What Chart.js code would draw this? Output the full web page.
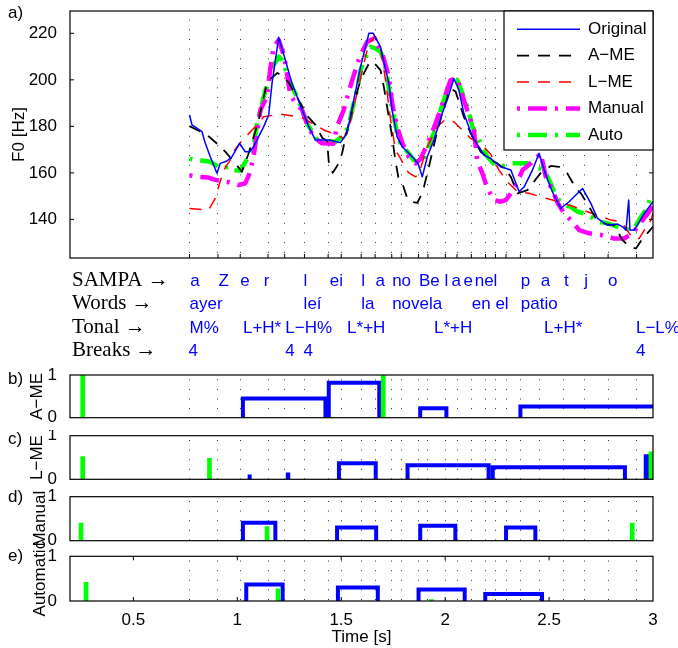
<!DOCTYPE html>
<html>
<head>
<meta charset="utf-8">
<title>F0 contours and tonal events</title>
<script src="https://cdn.jsdelivr.net/npm/chart.js@4.4.1/dist/chart.umd.min.js"></script>
<style>
  html, body { margin: 0; padding: 0; background: #fff; }
  #fig { position: relative; width: 678px; height: 648px; overflow: hidden; background: #fff; }
  #fig canvas { position: absolute; left: 0; }
</style>
</head>
<body>
<div id="fig">
  <canvas id="f0Chart" width="678" height="365" style="top:0px"></canvas>
  <canvas id="ameChart" width="678" height="70" style="top:360px"></canvas>
  <canvas id="lmeChart" width="678" height="60" style="top:430px"></canvas>
  <canvas id="manChart" width="678" height="70" style="top:485px"></canvas>
  <canvas id="autoChart" width="678" height="108" style="top:540px"></canvas>
</div>
<script>
// time axis (s)
const tMin = 0.195;
const tMax = 3.0;
const timeTicks = [0.5, 1, 1.5, 2, 2.5, 3];
const f0Ticks = [140, 160, 180, 200, 220];
// phone boundaries (dotted grid)
const phoneBounds = [0.770, 0.907, 1.014, 1.148, 1.228, 1.323, 1.437, 1.500, 1.596, 1.663, 1.743, 1.789, 1.872,
  1.917, 2.001, 2.057, 2.126, 2.194, 2.242, 2.293, 2.362, 2.455, 2.571, 2.671, 2.784, 2.921];

// F0 contours (Hz)
const origT = [0.770,0.782,0.830,0.846,0.870,0.902,0.918,0.950,0.974,1.011,1.038,1.059,1.078,1.127,1.151,1.167,1.199,1.231,
  1.263,1.312,1.343,1.376,1.440,1.496,1.528,1.560,1.593,1.633,1.654,1.689,1.729,1.745,1.769,1.794,1.842,1.869,1.890,1.914,
  1.946,1.986,2.010,2.042,2.066,2.090,2.131,2.163,2.187,2.219,2.267,2.316,2.356,2.380,2.420,2.452,2.484,2.516,2.556,2.596,
  2.661,2.701,2.733,2.781,2.830,2.854,2.870,2.883,2.889,2.910,2.958,3.000];
const origF = [184.9,180.6,177.7,172.7,166.9,159.8,164.1,165.1,166.9,172.7,169.1,169.1,171.2,179.9,184.9,198.5,218.3,208.5,
  198.5,187.0,180.0,174.1,174.1,173.0,177.0,191.3,205.6,220.0,220.0,214.2,198.5,187.0,175.5,171.2,166.9,164.1,158.3,166.9,
  174.1,185.6,191.3,200.6,195.6,185.6,175.5,171.2,167.6,166.2,162.6,161.2,151.9,154.0,161.2,168.4,159.1,151.9,144.7,147.6,
  153.3,146.9,140.4,137.5,138.0,136.8,135.4,148.3,135.4,135.4,142.6,147.6];

const ameT = [0.770,0.854,0.910,0.942,0.990,1.022,1.053,1.101,1.143,1.193,1.222,1.246,1.303,1.342,1.376,1.409,1.432,1.440,
  1.459,1.488,1.504,1.520,1.554,1.593,1.633,1.651,1.689,1.705,1.727,1.744,1.761,1.775,1.794,1.818,1.839,1.866,1.882,1.898,
  1.922,1.954,1.993,2.026,2.050,2.090,2.123,2.171,2.219,2.251,2.291,2.316,2.348,2.396,2.460,2.508,2.548,2.588,2.629,2.653,
  2.693,2.725,2.773,2.812,2.854,2.886,2.918,2.950,3.000];
const ameF = [180.1,176.3,172.0,169.1,164.1,160.5,168.0,182.0,199.0,203.0,201.0,199.0,190.0,184.0,180.6,175.0,173.8,164.8,
  160.0,164.1,168.4,175.0,188.0,200.0,207.0,208.0,204.2,197.0,185.0,176.0,165.0,158.0,155.5,149.0,147.5,147.1,150.0,154.0,
  162.6,175.0,188.0,196.3,195.0,184.1,177.0,169.1,165.5,164.1,161.2,158.3,151.2,152.6,160.0,163.0,162.6,159.8,153.3,151.2,
  145.4,140.4,138.0,137.5,131.1,128.2,127.5,131.8,136.8];

const lmeT = [0.770,0.861,0.894,0.910,0.934,0.966,0.982,1.014,1.071,1.102,1.127,1.207,1.271,1.319,1.360,1.424,1.462,1.512,
  1.544,1.583,1.617,1.633,1.665,1.689,1.713,1.737,1.761,1.785,1.809,1.825,1.858,1.874,1.914,1.962,2.002,2.042,2.083,2.123,
  2.179,2.219,2.259,2.299,2.348,2.404,2.460,2.516,2.572,2.621,2.685,2.733,2.797,2.846,2.886,2.902,2.934,2.958,2.990,3.000];
const lmeF = [144.7,144.0,149.0,154.0,161.2,165.5,169.1,173.0,178.4,181.3,184.1,185.3,184.4,183.4,181.3,178.1,177.0,174.8,
  182.0,197.0,210.0,215.7,218.5,214.0,200.0,183.0,169.8,166.2,162.0,160.0,158.3,159.8,171.2,180.0,183.0,182.0,178.4,174.8,
  171.9,168.0,161.2,156.2,151.9,151.2,149.7,148.3,146.9,145.4,143.3,141.8,139.7,139.0,134.0,131.8,131.8,135.4,139.7,142.6];

const manT = [0.770,0.806,0.861,0.894,0.950,1.006,1.038,1.059,1.078,1.096,1.111,1.143,1.159,1.175,1.199,1.226,1.255,1.271,
  1.312,1.343,1.376,1.408,1.462,1.480,1.512,1.536,1.553,1.584,1.601,1.625,1.657,1.697,1.729,1.745,1.769,1.794,1.825,1.858,
  1.882,1.922,1.954,1.988,2.026,2.058,2.084,2.114,2.138,2.154,2.179,2.203,2.235,2.267,2.291,2.316,2.348,2.372,2.412,2.444,
  2.460,2.484,2.516,2.542,2.572,2.604,2.645,2.693,2.749,2.813,2.861,2.902,2.926,2.950,2.976,3.000];
const manF = [159.0,158.3,158.0,157.0,156.2,154.8,155.5,159.8,166.9,178.0,187.0,192.7,205.0,214.2,217.1,210.0,193.5,191.3,
  187.0,179.1,174.8,172.7,172.5,180.0,187.0,194.9,199.9,208.5,212.1,216.4,217.8,211.4,201.3,189.9,179.9,172.7,166.9,164.1,
  166.0,174.1,181.3,190.0,199.9,200.6,193.0,184.9,178.4,165.5,159.8,153.3,148.3,147.6,148.3,151.2,156.2,161.2,164.1,166.9,
  168.4,158.3,152.6,147.0,142.6,139.7,135.4,134.0,133.3,131.8,131.8,134.0,136.8,139.7,142.6,146.0];

const autoT = [0.770,0.789,0.813,0.870,0.910,0.934,0.958,0.982,1.014,1.054,1.078,1.095,1.127,1.149,1.167,1.191,1.199,1.215,
  1.239,1.263,1.287,1.312,1.336,1.360,1.384,1.408,1.448,1.472,1.520,1.536,1.560,1.576,1.593,1.608,1.641,1.665,1.689,1.705,
  1.721,1.737,1.753,1.769,1.785,1.825,1.849,1.882,1.906,1.930,1.946,1.978,1.994,2.018,2.034,2.058,2.083,2.107,2.131,2.155,
  2.179,2.203,2.243,2.267,2.299,2.323,2.396,2.428,2.452,2.476,2.500,2.524,2.548,2.572,2.604,2.637,2.669,2.701,2.733,2.781,
  2.830,2.862,2.894,2.910,2.942,2.966,2.990,3.000];
const autoF = [166.2,165.5,165.5,164.8,162.6,161.9,162.9,161.2,160.9,166.9,171.2,181.3,192.7,200.0,205.6,208.5,210.0,208.5,
  202.8,197.0,192.7,187.0,181.3,177.7,174.1,173.0,173.6,173.4,177.0,180.6,189.9,195.6,204.2,207.8,214.2,213.5,212.0,208.5,
  201.3,191.3,184.1,177.0,172.7,168.4,165.5,164.1,166.9,174.1,177.0,187.0,191.3,197.0,199.9,199.9,194.2,188.4,179.9,175.5,
  171.2,166.9,163.0,162.6,163.3,164.1,164.1,162.6,161.9,161.2,157.0,152.0,148.3,146.2,145.4,143.3,142.6,141.1,139.0,138.3,
  136.8,136.1,135.4,136.1,141.1,144.0,149.7,151.2];

// annotation tiers (label start times)
const sampaText = ['a', 'Z', 'e', 'r', 'l', 'ei', 'l', 'a', 'no', 'Be', 'l', 'a', 'e', 'nel', 'p', 'a', 't', 'j', 'o'];
const sampaT = [0.773, 0.910, 1.014, 1.127, 1.319, 1.445, 1.596, 1.665, 1.745, 1.874, 1.997, 2.030, 2.088, 2.142, 2.364,
  2.460, 2.572, 2.669, 2.784];
const wordText = ['ayer', 'leí', 'la', 'novela', 'en el', 'patio'];
const wordT = [0.770, 1.319, 1.596, 1.745, 2.128, 2.364];
const tonalText = ['M%', 'L+H*', 'L−H%', 'L*+H', 'L*+H', 'L+H*', 'L−L%'];
const tonalT = [0.770, 1.027, 1.231, 1.528, 1.946, 2.476, 2.918];
const breakText = ['4', '4', '4', '4'];
const breakT = [0.765, 1.231, 1.319, 2.918];

// event panels: blue regions (start, end, height) and green marks (time, height)
const ameRegStart = [1.027, 1.440, 1.880, 2.362];
const ameRegEnd = [1.424, 1.683, 2.006, 3.020];
const ameRegH = [0.45, 0.82, 0.22, 0.26];
const ameMarkT = [0.256, 1.702];
const ameMarkH = [1.0, 1.0];

const lmeRegStart = [1.058, 1.243, 1.489, 1.819, 2.229, 2.965];
const lmeRegEnd = [1.060, 1.245, 1.666, 2.209, 2.865, 2.982];
const lmeRegH = [0.11, 0.11, 0.37, 0.32, 0.275, 0.53];
const lmeMarkT = [0.256, 0.866, 2.990];
const lmeMarkH = [0.52, 0.48, 0.63];

const manRegStart = [1.027, 1.480, 1.880, 2.293];
const manRegEnd = [1.183, 1.668, 2.049, 2.434];
const manRegH = [0.41, 0.30, 0.34, 0.30];
const manMarkT = [0.248, 1.143, 2.900];
const manMarkH = [0.40, 0.32, 0.40];

const autoRegStart = [1.043, 1.484, 1.872, 2.193];
const autoRegEnd = [1.218, 1.676, 2.094, 2.466];
const autoRegH = [0.37, 0.30, 0.26, 0.155];
const autoMarkT = [0.272, 1.196, 1.933];
const autoMarkH = [0.42, 0.27, 0.03];

const SANS = '"Liberation Sans", Arial, Helvetica, sans-serif';
const SERIF = '"Liberation Serif", "Times New Roman", serif';
Chart.defaults.font.family = SANS;
Chart.defaults.color = '#000';

const xy = (ts, vs) => ts.map((t, i) => ({x: t, y: vs[i]}));

function pulses(starts, ends, hs) {
    const pts = [];
    starts.forEach((s, i) => {
        pts.push({x: s, y: 0}, {x: s, y: hs[i]}, {x: ends[i], y: hs[i]}, {x: ends[i], y: 0}, {x: ends[i], y: null});
    });
    return pts;
}

// box around the axes, inward ticks, panel letter
const axesFrame = {
    id: 'axesFrame',
    afterDraw(chart, args, o) {
        const {ctx, chartArea: a, scales} = chart;
        ctx.save();
        ctx.strokeStyle = '#000';
        ctx.lineWidth = 1.2;
        ctx.strokeRect(a.left, a.top, a.right - a.left, a.bottom - a.top);
        ctx.lineWidth = 1;
        ctx.beginPath();
        (o.yTicks || []).forEach(v => {
            const py = scales.y.getPixelForValue(v);
            ctx.moveTo(a.left, py); ctx.lineTo(a.left + 4, py);
            ctx.moveTo(a.right, py); ctx.lineTo(a.right - 4, py);
        });
        (o.xTicks || []).forEach(v => {
            const px = scales.x.getPixelForValue(v);
            ctx.moveTo(px, a.bottom); ctx.lineTo(px, a.bottom - 4);
            if (o.xTicksTop) { ctx.moveTo(px, a.top); ctx.lineTo(px, a.top + 4); }
        });
        ctx.stroke();
        if (o.tag) {
            ctx.font = '17px ' + SANS;
            ctx.fillStyle = '#000';
            ctx.textAlign = 'left';
            ctx.textBaseline = 'middle';
            ctx.fillText(o.tag, 8, o.tagY);
        }
        ctx.restore();
    }
};

// legend box in the upper right corner of the F0 panel
const legendBox = {
    id: 'legendBox',
    afterDraw(chart) {
        const {ctx, chartArea: a} = chart;
        const w = 149, h = 139;
        const x0 = a.right - w, y0 = a.top;
        ctx.save();
        ctx.fillStyle = '#fff';
        ctx.fillRect(x0, y0, w, h);
        ctx.strokeStyle = '#000';
        ctx.lineWidth = 1.2;
        ctx.strokeRect(x0, y0, w, h);
        ctx.font = '17px ' + SANS;
        ctx.textBaseline = 'middle';
        ctx.textAlign = 'left';
        chart.data.datasets.forEach((ds, i) => {
            const y = y0 + 18.3 + i * 26.4;
            ctx.beginPath();
            ctx.setLineDash(ds.borderDash || []);
            ctx.strokeStyle = ds.borderColor;
            ctx.lineWidth = ds.borderWidth;
            ctx.moveTo(x0 + 13, y);
            ctx.lineTo(x0 + 76, y);
            ctx.stroke();
            ctx.setLineDash([]);
            ctx.fillStyle = '#000';
            ctx.fillText(ds.label, x0 + 84, y);
        });
        ctx.restore();
    }
};

// SAMPA / Words / Tonal / Breaks rows under the F0 panel
const tiers = [
    {name: 'SAMPA', text: sampaText, t: sampaT},
    {name: 'Words', text: wordText, t: wordT},
    {name: 'Tonal', text: tonalText, t: tonalT},
    {name: 'Breaks', text: breakText, t: breakT}
];
const tierText = {
    id: 'tierText',
    afterDraw(chart) {
        const {ctx, chartArea: a, scales: {x}} = chart;
        ctx.save();
        ctx.textAlign = 'left';
        ctx.textBaseline = 'alphabetic';
        tiers.forEach((tier, r) => {
            const y = a.bottom + 28 + r * 23.3;
            ctx.font = '21px ' + SERIF;
            ctx.fillStyle = '#000';
            ctx.fillText(tier.name + ' \u2192', 72, y);
            ctx.font = '17px ' + SANS;
            ctx.fillStyle = '#0000ff';
            tier.text.forEach((s, i) => ctx.fillText(s, x.getPixelForValue(tier.t[i]), y));
        });
        ctx.restore();
    }
};

const lineStyle = {pointRadius: 0, tension: 0, fill: false, borderCapStyle: 'butt', borderJoinStyle: 'round'};

new Chart(document.getElementById('f0Chart'), {
    type: 'line',
    data: {
        datasets: [
            Object.assign({label: 'Original', data: xy(origT, origF), borderColor: '#0000ff', borderWidth: 1.5}, lineStyle),
            Object.assign({label: 'A\u2212ME', data: xy(ameT, ameF), borderColor: '#000000', borderWidth: 1.8, borderDash: [12, 9]}, lineStyle),
            Object.assign({label: 'L\u2212ME', data: xy(lmeT, lmeF), borderColor: '#ff0000', borderWidth: 1.5, borderDash: [12, 9]}, lineStyle),
            Object.assign({label: 'Manual', data: xy(manT, manF), borderColor: '#ff00ff', borderWidth: 4.5, borderDash: [3, 8, 19, 8]}, lineStyle),
            Object.assign({label: 'Auto', data: xy(autoT, autoF), borderColor: '#00ff00', borderWidth: 4.5, borderDash: [3, 8, 19, 8]}, lineStyle)
        ]
    },
    options: {
        responsive: false,
        animation: false,
        devicePixelRatio: 1,
        layout: {padding: {left: 0, right: 25, top: 11, bottom: 107}},
        plugins: {
            legend: {display: false},
            tooltip: {enabled: false},
            axesFrame: {yTicks: f0Ticks, xTicks: phoneBounds, tag: 'a)', tagY: 13}
        },
        scales: {
            x: {
                type: 'linear', min: tMin, max: tMax, offset: false,
                afterBuildTicks: s => { s.ticks = phoneBounds.map(v => ({value: v})); },
                ticks: {display: false},
                grid: {color: '#333', lineWidth: 1, drawTicks: false, offset: false},
                border: {display: false, dash: [1, 8.67], dashOffset: 1},
                afterFit: s => { s.height = 0; s.paddingLeft = 0; s.paddingRight = 0; }
            },
            y: {
                type: 'linear', min: 123.4, max: 229.6,
                afterBuildTicks: s => { s.ticks = f0Ticks.map(v => ({value: v})); },
                ticks: {callback: v => String(v), padding: 5, font: {size: 17}},
                grid: {display: false},
                border: {display: false},
                title: {display: true, text: 'F0 [Hz]', font: {size: 17}, padding: {top: 9, bottom: 0}},
                afterFit: s => { s.width = 70; s.paddingTop = 0; s.paddingBottom = 0; }
            }
        }
    },
    plugins: [axesFrame, legendBox, tierText]
});

function eventChart(id, title, titleGap, tag, tagY, pad, regStart, regEnd, regH, markT, markH, withTime) {
    const scales = {
        x: {
            type: 'linear', min: tMin, max: tMax, position: 'bottom', offset: false,
            afterBuildTicks: s => { s.ticks = phoneBounds.map(v => ({value: v})); },
            ticks: {display: false},
            grid: {color: '#333', lineWidth: 1, drawTicks: false, offset: false},
            border: {display: false, dash: [1, 8.6], dashOffset: 5.3},
            afterFit: s => { s.height = 0; s.paddingLeft = 0; s.paddingRight = 0; }
        },
        y: {
            type: 'linear', min: 0, max: 1,
            afterBuildTicks: s => { s.ticks = [{value: 0}, {value: 1}]; },
            ticks: {callback: v => String(v), padding: 5, font: {size: 17}},
            grid: {display: false},
            border: {display: false},
            title: {display: true, text: title, font: {size: 17}, padding: {top: titleGap, bottom: 0}},
            afterFit: s => { s.width = 70; s.paddingTop = 0; s.paddingBottom = 0; }
        }
    };
    if (withTime) {
        scales.xt = {
            type: 'linear', min: tMin, max: tMax, position: 'bottom', offset: false,
            afterBuildTicks: s => { s.ticks = timeTicks.map(v => ({value: v})); },
            ticks: {callback: v => String(v), padding: 1, font: {size: 17}, maxRotation: 0},
            grid: {display: false, offset: false},
            border: {display: false},
            title: {display: true, text: 'Time [s]', font: {size: 17}, padding: {top: 0, bottom: 0}},
            afterFit: s => { s.height = 47; s.paddingLeft = 0; s.paddingRight = 0; }
        };
    }
    return new Chart(document.getElementById(id), {
        type: 'line',
        data: {
            datasets: [
                {
                    type: 'bar', data: xy(markT, markH), backgroundColor: '#00ff00',
                    barThickness: 4, borderWidth: 0, xAxisID: 'x', yAxisID: 'y'
                },
                {
                    data: pulses(regStart, regEnd, regH), borderColor: '#0000ff', borderWidth: 4,
                    pointRadius: 0, tension: 0, spanGaps: false, clip: 0,
                    borderJoinStyle: 'miter', borderCapStyle: 'butt', xAxisID: 'x', yAxisID: 'y'
                }
            ]
        },
        options: {
            responsive: false,
            animation: false,
            devicePixelRatio: 1,
            layout: {padding: pad},
            plugins: {
                legend: {display: false},
                tooltip: {enabled: false},
                axesFrame: {xTicks: withTime ? timeTicks.slice(0, 5) : [], xTicksTop: true, tag: tag, tagY: tagY}
            },
            scales: scales
        },
        plugins: [axesFrame]
    });
}

eventChart('ameChart', 'A\u2212ME', 26.8, 'b)', 19, {left: 0, right: 25, top: 15, bottom: 12.3},
    ameRegStart, ameRegEnd, ameRegH, ameMarkT, ameMarkH, false);
eventChart('lmeChart', 'L\u2212ME', 26.8, 'c)', 9.5, {left: 0, right: 25, top: 5.7, bottom: 10.7},
    lmeRegStart, lmeRegEnd, lmeRegH, lmeMarkT, lmeMarkH, false);
eventChart('manChart', 'Manual', 29.8, 'd)', 12.5, {left: 0, right: 25, top: 11.7, bottom: 14.3},
    manRegStart, manRegEnd, manRegH, manMarkT, manMarkH, false);
eventChart('autoChart', 'Automatic', 29.8, 'e)', 16.7, {left: 0, right: 25, top: 16.3, bottom: 0},
    autoRegStart, autoRegEnd, autoRegH, autoMarkT, autoMarkH, true);
</script>
</body>
</html>
